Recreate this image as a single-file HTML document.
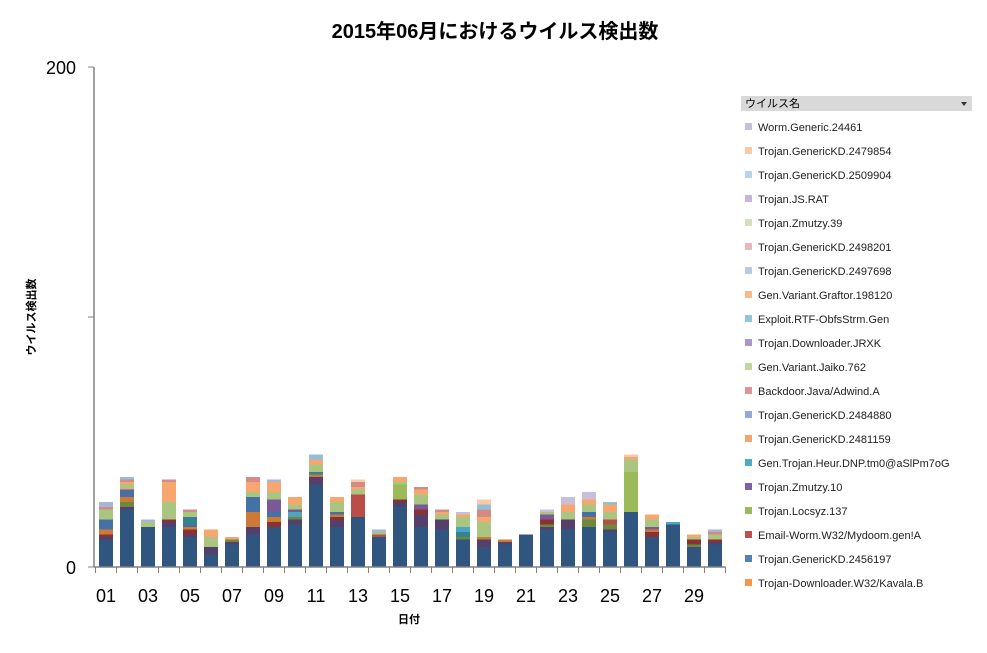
<!DOCTYPE html>
<html><head><meta charset="utf-8">
<style>
body{margin:0;background:#fff;width:987px;height:648px;overflow:hidden;font-family:"Liberation Sans","Noto Sans CJK JP",sans-serif;}
svg text{font-family:"Liberation Sans","Noto Sans CJK JP",sans-serif;}
</style></head><body>
<svg id="chart" width="987" height="648" xmlns="http://www.w3.org/2000/svg">
<text x="495" y="38" text-anchor="middle" font-size="20" font-weight="bold">2015年06月におけるウイルス検出数</text>
<text transform="translate(35,317) rotate(-90)" text-anchor="middle" font-size="11" font-weight="bold">ウイルス検出数</text>
<text x="409" y="623" text-anchor="middle" font-size="11" font-weight="bold">日付</text>
<g id="bars"></g>
<g id="axes"></g>
<g id="legend">
<rect x="741" y="96" width="231" height="15" fill="#d9d9d9"/>
<text x="745" y="107" font-size="11">ウイルス名</text>
<path d="M961 102 l6 0 l-3 4 z" fill="#333"/>
</g>
</svg>
<script>
const days=["01","02","03","04","05","06","07","08","09","10","11","12","13","14","15","16","17","18","19","20","21","22","23","24","25","26","27","28","29","30"];
const yTicks=[0,100,200];
const yTickLabels=["0","","200"];
const seriesNames=["Other","Trojan.Zmutzy.10b","Olive","DarkRed","Brown","Trojan.GenericKD.2456197","Teal","Gen.Trojan.Heur.DNP","Trojan.Zmutzy.10","Email-Worm.W32/Mydoom.gen!A","Trojan.Locsyz.137","Gen.Variant.Jaiko.762","Trojan.GenericKD.2481159","Backdoor.Java/Adwind.A","Trojan.GenericKD.2509904","Trojan.GenericKD.2479854","Worm.Generic.24461","Trojan.GenericKD.2484880"];
const seriesColors=["#30557f","#553f6c","#6b8a3c","#8c3131","#cc7a35","#4472a6","#34838f","#4aa6c2","#7a5a96","#b84d4a","#9bbb59","#aac580","#f7a66f","#d48a88","#8fc0d6","#fbc8a8","#c8c0da","#a6b6d6"];
const sA=[11,23,16,16,12,5,9,13,16,17,33,16,20,12,24,16,15,11,8,9,13,15,15,16,14,22,12,17,8,9];
const sB=[1,1,0,2,1,3,1,3,0,2,3,3,0,0,2,5,4,0,3,1,0,1,4,0,1,0,0,0,0,1];
const sC=[0,2,0,0,0,0,1,0,0,1,0,0,0,0,0,0,0,1,0,0,0,1,0,3,2,0,0,0,1,0];
const sD=[1,0,0,1,2,0,0,0,2,0,0,1,0,0,1,2,0,0,0,0,0,2,0,0,0,0,2,0,2,1];
const sE=[2,2,0,0,1,0,0,6,2,0,1,1,0,0,0,0,0,0,1,1,0,0,0,1,0,0,1,0,0,0];
const sF=[4,2,0,0,1,0,0,6,2,0,0,1,0,0,0,0,0,0,0,0,0,0,0,2,0,0,0,0,0,0];
const sG=[0,0,0,0,3,0,0,0,0,0,1,0,0,0,0,0,0,2,0,0,0,0,0,0,0,0,0,0,0,0];
const sP=[0,0,0,0,0,0,0,0,0,2,0,0,0,0,0,0,0,2,0,0,0,0,0,0,0,0,0,1,0,0];
const sH=[0,1,0,0,0,0,0,0,5,1,0,0,0,0,0,2,0,0,0,0,0,2,0,0,0,0,1,0,0,0];
const sI=[0,0,0,0,0,0,0,0,0,0,0,0,9,1,0,0,0,0,0,0,0,0,0,0,2,0,0,0,0,0];
const sO=[0,0,0,0,0,0,0,0,0,0,0,0,0,0,6,0,0,0,0,0,0,0,0,0,0,16,0,0,0,0];
const sJ=[4,2,2,7,2,4,0,2,3,2,3,4,2,1,1,4,2,4,6,0,0,1,3,3,3,5,3,0,1,2];
const sK=[0,1,0,8,0,3,1,4,4,3,2,2,1,0,2,2,1,1,2,0,0,0,3,2,3,1,2,0,1,0];
const sL=[1,1,0,1,1,0,0,2,0,0,0,0,2,0,0,1,1,0,3,0,0,0,0,0,0,0,0,0,0,1];
const sM=[0,1,0,0,0,0,0,0,0,0,2,0,0,0,0,0,0,0,2,0,0,0,0,0,1,0,0,0,0,0];
const sR=[0,0,0,0,0,0,0,0,0,0,0,0,1,0,0,0,0,0,2,0,0,0,0,0,0,1,0,0,0,0];
const sN=[0,0,0,0,0,0,0,0,0,0,0,0,0,0,0,0,0,1,0,0,0,1,3,3,0,0,0,0,0,0];
const sQ=[2,0,1,0,0,0,0,0,1,0,0,0,0,1,0,0,0,0,0,0,0,0,0,0,0,0,0,0,0,1];
const legendNames=["Worm.Generic.24461","Trojan.GenericKD.2479854","Trojan.GenericKD.2509904","Trojan.JS.RAT","Trojan.Zmutzy.39","Trojan.GenericKD.2498201","Trojan.GenericKD.2497698","Gen.Variant.Graftor.198120","Exploit.RTF-ObfsStrm.Gen","Trojan.Downloader.JRXK","Gen.Variant.Jaiko.762","Backdoor.Java/Adwind.A","Trojan.GenericKD.2484880","Trojan.GenericKD.2481159","Gen.Trojan.Heur.DNP.tm0@aSlPm7oG","Trojan.Zmutzy.10","Trojan.Locsyz.137","Email-Worm.W32/Mydoom.gen!A","Trojan.GenericKD.2456197","Trojan-Downloader.W32/Kavala.B"];
const legendColors=["#c8c0da","#fbc8a8","#b8d4e6","#c3b6d8","#d3e0b8","#e6b9b8","#b9c8e6","#f9b88a","#92c5dc","#a899c4","#c3d69b","#d99694","#95a9d4","#f7a56f","#4bacc6","#8064a2","#9bbb59","#c0504d","#4f81bd","#f79646"];

const series=[sA,sB,sC,sD,sE,sF,sG,sP,sH,sI,sO,sJ,sK,sL,sM,sR,sN,sQ];
const NS="http://www.w3.org/2000/svg";
const X0=95.5,CW=21,BW=14,Y0=567,Y1=67,YMAX=200;
const xPos=i=>X0+CW*i+CW/2;
const yPos=v=>Y0-(v/YMAX)*(Y0-Y1);
function mk(tag,attrs,parent){const e=document.createElementNS(NS,tag);for(const k in attrs)e.setAttribute(k,attrs[k]);parent.appendChild(e);return e;}
const bars=document.getElementById('bars');
days.forEach((d,i)=>{
  let cum=0;
  series.forEach((s,j)=>{
    const v=s[i];if(!v)return;
    const r=mk('rect',{x:xPos(i)-BW/2,y:yPos(cum+v),width:BW,height:yPos(cum)-yPos(cum+v),fill:seriesColors[j]},bars);
    
    
    cum+=v;
  });
});
const ax=document.getElementById('axes');
let l=mk('line',{x1:94,y1:Y1,x2:94,y2:Y0,stroke:'#808080','stroke-width':1.5},ax);


l=mk('line',{x1:94,y1:Y0,x2:X0+CW*days.length,y2:Y0,stroke:'#808080','stroke-width':1.5},ax);


yTicks.forEach((t,k)=>{
  const tk=mk('line',{x1:88,y1:yPos(t),x2:94,y2:yPos(t),stroke:'#808080'},ax);
  
  
  if(yTickLabels[k]){
    const tx=mk('text',{x:76,y:yPos(t)+7,'text-anchor':'end','font-size':18},ax);
    tx.textContent=yTickLabels[k];
    
    
  }
});
for(let i=0;i<=days.length;i++){
  const tk=mk('line',{x1:X0+CW*i,y1:Y0,x2:X0+CW*i,y2:Y0+6,stroke:'#808080'},ax);
  
  
}
days.forEach((d,i)=>{
  if(i%2)return;
  const tx=mk('text',{x:xPos(i),y:602,'text-anchor':'middle','font-size':18},ax);
  tx.textContent=d;
  
  
});
const lg=document.getElementById('legend');
legendNames.forEach((n,k)=>{
  const y=127+24*k;
  const m=mk('rect',{x:745,y:y-4,width:7,height:7,fill:legendColors[k]},lg);
  
  
  const t=mk('text',{x:758,y:y+4,'font-size':11,fill:'#222'},lg);
  t.textContent=n;
  
  
});
</script>
</body></html>
